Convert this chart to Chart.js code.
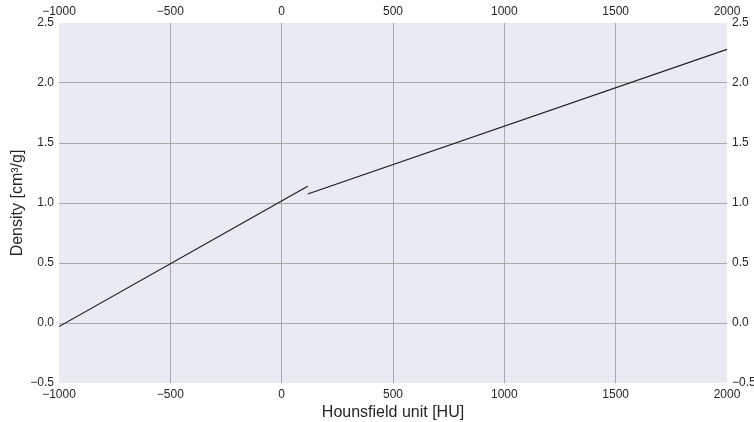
<!DOCTYPE html>
<html>
<head>
<meta charset="utf-8">
<script src="https://cdn.jsdelivr.net/npm/chart.js@4/dist/chart.umd.min.js"></script>
<style>
  html, body { margin: 0; padding: 0; background: #fff; }
  #wrap { width: 754px; height: 422px; }
</style>
</head>
<body>
<div id="wrap"><canvas id="myChart" width="754" height="422"></canvas></div>
<script>
// soft tissue / bone segments of the HU -> density curve
var huLow = [-1000, 117];
var rhoLow = [-0.03, 1.14];
var huHigh = [117, 2000];
var rhoHigh = [1.075, 2.28];

var xTicks = [-1000, -500, 0, 500, 1000, 1500, 2000];
var yTicks = [-0.5, 0.0, 0.5, 1.0, 1.5, 2.0, 2.5];

var FONT = "'Liberation Sans', Arial, sans-serif";
var TEXT = "#262626";
var GRID = "#a8a8a8";

function pts(xs, ys) {
  return xs.map(function (x, i) { return { x: x, y: ys[i] }; });
}

function minus(s) { return String(s).replace("-", "\u2212"); }

// grid colour, hidden on the outer edges like the original
function gridColor(ctx) {
  var t = ctx.tick;
  if (!t) return GRID;
  var s = ctx.scale;
  if (t.value === s.min || t.value === s.max) return "rgba(0,0,0,0)";
  return GRID;
}

var plotBg = {
  id: "plotBg",
  beforeDraw: function (chart) {
    var a = chart.chartArea, c = chart.ctx;
    c.save();
    c.fillStyle = "#eaeaf2";
    c.fillRect(a.left, a.top, a.right - a.left, a.bottom - a.top);
    c.restore();
  }
};

function fixWidth(w) { return function (s) { s.width = w; }; }
function fixHeight(h) { return function (s) { s.height = h; }; }

var tickFont = { family: FONT, size: 12 };
var titleFont = { family: FONT, size: 16 };

var ctx = document.getElementById("myChart").getContext("2d");
var myChart = new Chart(ctx, {
  type: "scatter",
  data: {
    datasets: [
      {
        data: pts(huLow, rhoLow),
        showLine: true,
        borderColor: "#1a1a1a",
        borderWidth: 1.2,
        pointRadius: 0,
        xAxisID: "x",
        yAxisID: "y",
      },
      {
        data: pts(huHigh, rhoHigh),
        showLine: true,
        borderColor: "#1a1a1a",
        borderWidth: 1.2,
        pointRadius: 0,
        xAxisID: "x",
        yAxisID: "y",
      },
    ],
  },
  options: {
    responsive: false,
    animation: false,
    layout: { padding: 0 },
    plugins: { legend: { display: false }, tooltip: { enabled: false } },
    scales: {
      x: {
        type: "linear",
        position: "bottom",
        min: -1000,
        max: 2000,
        afterBuildTicks: function (s) { s.ticks = xTicks.map(function (v) { return { value: v }; }); },
        afterFit: fixHeight(39),
        border: { display: false },
        grid: { color: gridColor, lineWidth: 1, drawTicks: false },
        ticks: { font: tickFont, color: TEXT, padding: 4, maxRotation: 0, callback: function (v) { return minus(v); } },
        title: { display: true, text: "Hounsfield unit [HU]", font: titleFont, color: TEXT, padding: { top: 0, bottom: 0 } },
      },
      x2: {
        type: "linear",
        position: "top",
        min: -1000,
        max: 2000,
        afterBuildTicks: function (s) { s.ticks = xTicks.map(function (v) { return { value: v }; }); },
        afterFit: fixHeight(23),
        border: { display: false },
        grid: { display: false, drawTicks: false },
        ticks: { font: tickFont, color: TEXT, padding: 4, maxRotation: 0, callback: function (v) { return minus(v); } },
      },
      y: {
        type: "linear",
        position: "left",
        min: -0.5,
        max: 2.5,
        afterBuildTicks: function (s) { s.ticks = yTicks.map(function (v) { return { value: v }; }); },
        afterFit: fixWidth(59),
        border: { display: false },
        grid: { color: gridColor, lineWidth: 1, drawTicks: false },
        ticks: { font: tickFont, color: TEXT, padding: 5, callback: function (v) { return minus(v.toFixed(1)); } },
        title: { display: true, text: "Density [cm\u00b3/g]", font: titleFont, color: TEXT, padding: { top: 8, bottom: 4 } },
      },
      y2: {
        type: "linear",
        position: "right",
        min: -0.5,
        max: 2.5,
        afterBuildTicks: function (s) { s.ticks = yTicks.map(function (v) { return { value: v }; }); },
        afterFit: fixWidth(27),
        border: { display: false },
        grid: { display: false, drawTicks: false },
        ticks: { font: tickFont, color: TEXT, padding: 5, callback: function (v) { return minus(v.toFixed(1)); } },
      },
    },
  },
  plugins: [plotBg],
});
</script>
</body>
</html>
